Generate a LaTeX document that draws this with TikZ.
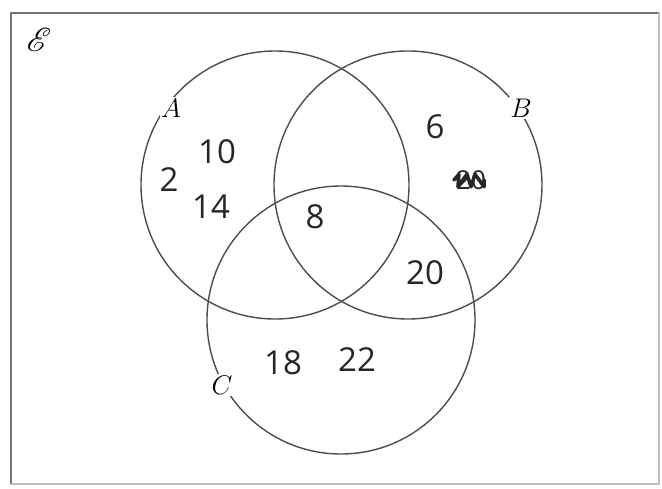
\documentclass[tikz,border=0pt]{standalone}
\usepackage{fontspec}
\usepackage{mathrsfs}
\newfontfamily\handfont{Open Sans}

\begin{document}
\begin{tikzpicture}[
  x=1pt,
  y=-1pt,
  line join=round,
  line cap=round,
  frame/.style={draw=black!55,line width=1.6pt},
  faint/.style={draw=black!25,line width=1.2pt},
  setring/.style={draw=black!70,line width=1.4pt},
  setname/.style={fill=white,inner sep=1pt,font=\fontsize{20}{20}\selectfont,scale=1.3},
  entry/.style={font=\handfont\fontsize{33}{33}\selectfont,text=black!85,inner sep=0pt}
]
  \useasboundingbox (0,0) rectangle (662,488);

  % Universal set frame.
  \draw[frame] (11,484) -- (11,13) -- (659,13);
  \draw[faint] (659,13) -- (659,484) -- (11,484);
  \node[font=\fontsize{20}{20}\selectfont,scale=1.6] (U) at (39,40) {$\mathscr{E}$};

  % Circle centres.
  \coordinate (cA) at (275,185);
  \coordinate (cB) at (408,185);
  \coordinate (cC) at (341,320);

  \draw[setring] (cA) circle[radius=134];
  \draw[setring] (cB) circle[radius=134];
  \draw[setring] (cC) circle[radius=134];

  % Set names break the circles.
  \node[setname] (A) at (171,108) {$A$};
  \node[setname] (B) at (521,108) {$B$};
  \node[setname] (C) at (222,385) {$C$};

  % Region entries.
  \node[entry] (e2) at (169,180) {2};
  \node[entry] (e10) at (217,152) {10};
  \node[entry] (e14) at (211,207) {14};
  \node[entry] (e8) at (315,217) {8};
  \node[entry] (e6) at (435,127) {6};
  \node[entry,font=\handfont\fontsize{26}{26}\selectfont] (e20x) at (471,180) {20};
  \node[entry] (e20) at (425,273) {20};
  \node[entry] (e18) at (283,363) {18};
  \node[entry] (e22) at (357,360) {22};

  % Crossed-out entry.
  \draw[black!85,line width=3.5pt]
    ([xshift=-2pt]e20x.west) -- ([xshift=3pt,yshift=-4pt]e20x.north west)
    -- ([xshift=2pt,yshift=3pt]e20x.south west) -- ([xshift=-4pt,yshift=-4pt]e20x.north)
    -- ([yshift=3pt]e20x.south) -- ([xshift=4pt,yshift=-4pt]e20x.north)
    -- ([xshift=-2pt,yshift=3pt]e20x.south east) -- ([xshift=-2pt]e20x.east);
\end{tikzpicture}
\end{document}
